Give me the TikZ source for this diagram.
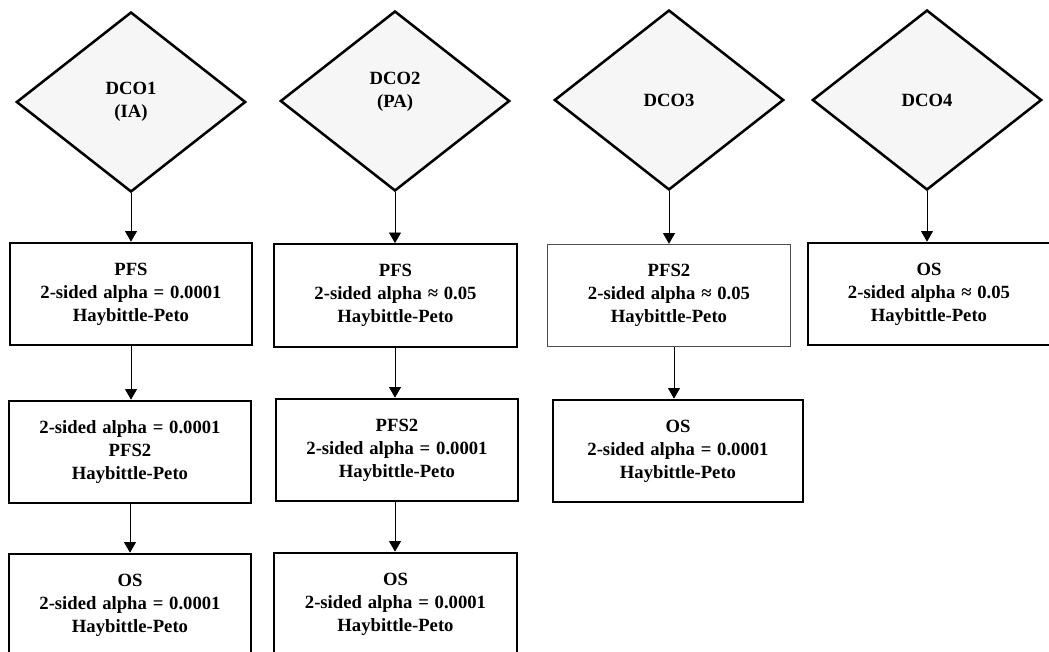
\documentclass[tikz,border=0pt]{standalone}
\usepackage{fontspec}
\setmainfont{Liberation Serif}[WordSpace=1.25]
\usetikzlibrary{arrows.meta}
\usetikzlibrary{shapes}

\begin{document}
\begin{tikzpicture}[x=0.75pt,y=-0.75pt,
    every node/.style={font=\fontsize{14}{17.25}\selectfont\bfseries,align=center},
    dco/.style={diamond,draw,line width=1.9pt,fill=gray!7,inner sep=0pt,minimum width=172pt,minimum height=135pt},
    box/.style={rectangle,draw,line width=1.5pt,minimum width=182pt,minimum height=77pt},
    thinbox/.style={box,line width=0.6pt,draw=black!70},
    arr/.style={-{Triangle[width=9pt,length=8pt]},line width=0.7pt}]
\useasboundingbox (0,0) rectangle (1049,651);
\begin{scope}
    \node[dco] (D1) at (131,102) {DCO1\\(IA)};
    \node[box] (A1) at (131,294) {PFS\\2-sided alpha = 0.0001\\Haybittle-Peto};
    \node[box] (A2) at (130,452) {2-sided alpha = 0.0001\\PFS2\\Haybittle-Peto};
    \node[box] (A3) at (130,605) {OS\\2-sided alpha = 0.0001\\Haybittle-Peto};
    \path [arr] (D1) edge (A1);
    \path [arr] (A1.south) edge (A1.south |- A2.north);
    \path [arr] (A2.south) edge (A2.south |- A3.north);
\end{scope}

\begin{scope}
    \node[dco] (D2) at (395,101) {DCO2\\(PA)\\\mbox{}};
    \node[box] (B1) at (395.5,295.5) {PFS\\2-sided alpha ≈ 0.05\\Haybittle-Peto};
    \node[box] (B2) at (397,450) {PFS2\\2-sided alpha = 0.0001\\Haybittle-Peto};
    \node[box] (B3) at (395.5,604) {OS\\2-sided alpha = 0.0001\\Haybittle-Peto};
    \path [arr] (D2.south) edge (D2.south |- B1.north);
    \path [arr] (D2.south |- B1.south) edge (D2.south |- B2.north);
    \path [arr] (D2.south |- B2.south) edge (D2.south |- B3.north);
\end{scope}

\begin{scope}
    \node[dco] (D3) at (669,100) {DCO3};
    \node[thinbox] (C1) at (669,295.5) {PFS2\\2-sided alpha ≈ 0.05\\Haybittle-Peto};
    \node[box,minimum width=187pt] (C2) at (678,451) {OS\\2-sided alpha = 0.0001\\Haybittle-Peto};
    \path [arr] (D3) edge (C1);
    \path [arr] (C1.south -| 674,0) edge (C2.north -| 674,0);
\end{scope}

\begin{scope}
    \node[dco] (D4) at (927,100) {DCO4};
    \node[box] (E1) at (929,294) {OS\\2-sided alpha ≈ 0.05\\Haybittle-Peto};
    \path [arr] (D4.south) edge (D4.south |- E1.north);
\end{scope}
\end{tikzpicture}
\end{document}
